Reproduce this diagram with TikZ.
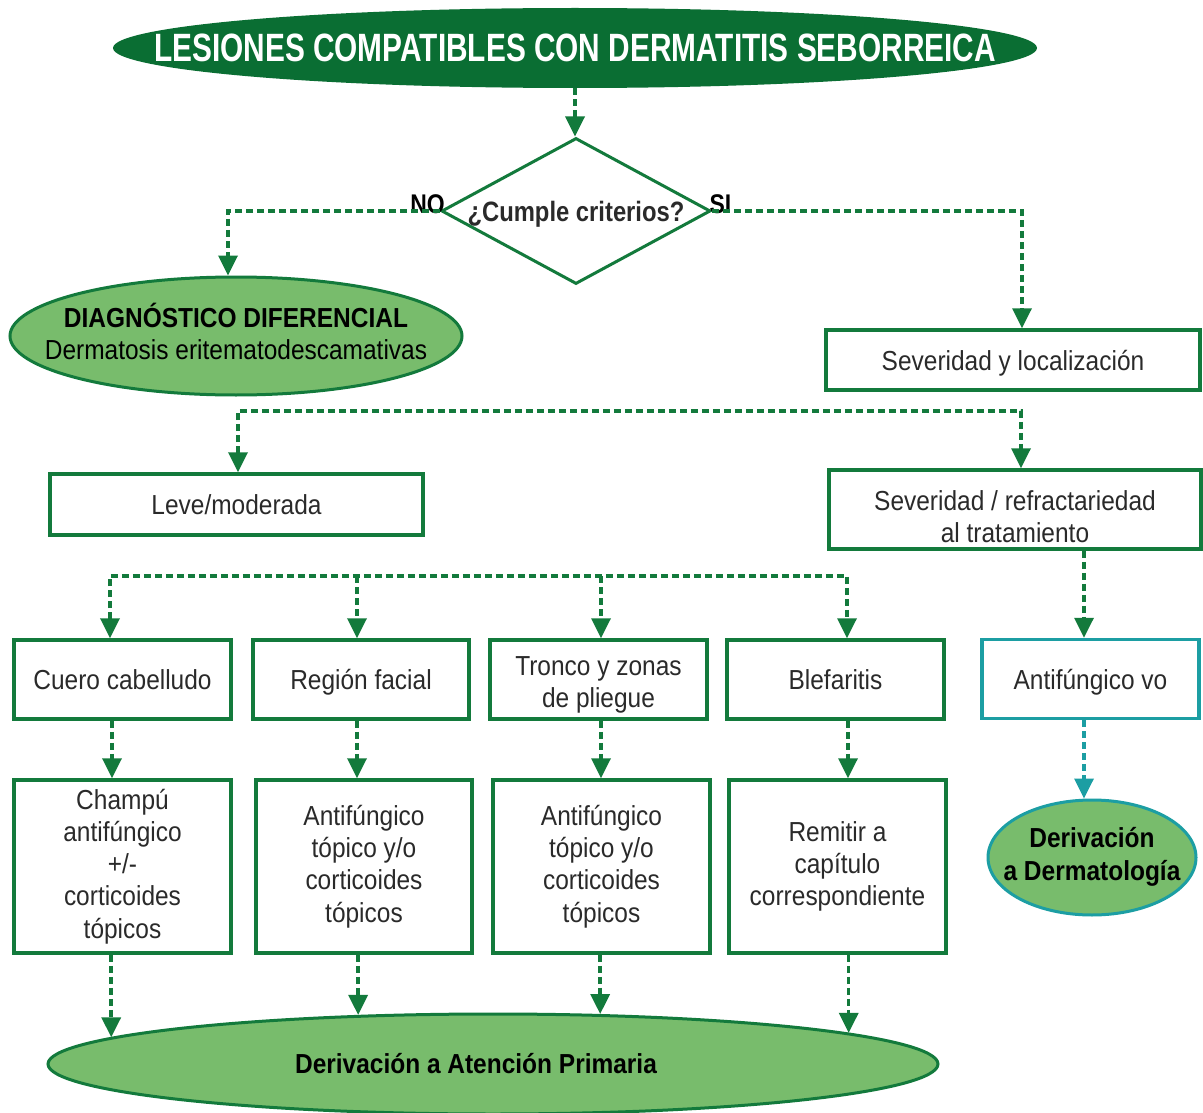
\documentclass[tikz,border=0pt]{standalone}
\usepackage{fontspec}
\setmainfont[FakeStretch=0.89]{Liberation Sans}
\newfontfamily\titlefam[FakeStretch=0.755]{Liberation Sans}
\newfontfamily\condfam[FakeStretch=0.85]{Liberation Sans}
\usetikzlibrary{shapes.geometric,arrows.meta,calc}

\definecolor{dkgreen}{HTML}{0A6E33}
\definecolor{lngreen}{HTML}{137A3C}
\definecolor{ltgreen}{HTML}{78BC6C}
\definecolor{tealc}{HTML}{1C9EA3}
\definecolor{ink}{HTML}{2A2A2A}

\newcommand\bodysize{\fontsize{27.5}{32.2}\selectfont}
% text of zero width, so an ellipse keeps the size given by its minimum width/height
\newcommand\ztext[1]{\makebox[0pt]{\begin{tabular}{@{}c@{}}#1\end{tabular}}}

\tikzset{
  box/.style={draw=lngreen, line width=3.5pt, fill=white, text=ink, align=center,
    inner sep=0pt, font=\bodysize},
  oneline/.style={text depth=0pt},
  tealbox/.style={box, draw=tealc},
  boxtext/.style={text=ink, align=center, inner sep=0pt, font=\bodysize},
  greenell/.style={ellipse, draw=lngreen, line width=3pt, fill=ltgreen, text=black,
    inner sep=0pt, font=\bodysize},
  titleell/.style={ellipse, fill=dkgreen, text=white, inner sep=0pt,
    font=\titlefam\bfseries\fontsize{39.5}{39.5}\selectfont},
  question/.style={diamond, aspect=1.84, draw=lngreen, line width=3pt, inner sep=0pt,
    minimum width=269pt, minimum height=146pt, text=ink, text depth=0pt,
    font=\condfam\bfseries\fontsize{28}{28}\selectfont},
  answer/.style={text=black, inner sep=0pt, font=\condfam\bfseries\fontsize{27}{27}\selectfont},
  flow/.style={draw=lngreen, line width=3.5pt, dash pattern=on 7pt off 4pt,
    -{Triangle[width=19pt,length=20pt]}},
  twoway/.style={flow, {Triangle[width=19pt,length=20pt]}-{Triangle[width=19pt,length=20pt]}},
  tealflow/.style={flow, draw=tealc},
}

\begin{document}
\begin{tikzpicture}[x=1pt,y=-1pt]
\useasboundingbox[fill=white] (0,0) rectangle (1203,1113);

% --- top of the chart
\node[titleell, minimum width=924pt, minimum height=80pt] (top) at (575,48)
  {\makebox[0pt]{LESIONES COMPATIBLES CON DERMATITIS SEBORREICA}};
\node[question] (crit) at (576,211) {\makebox[0pt]{¿Cumple criterios?}};
\node[answer] (no) at (427.5,204) {NO};
\node[answer] (si) at (720.5,204) {SI};

\node[greenell, minimum width=452pt, minimum height=118pt] (diag) at (236,336)
  {\ztext{{\bfseries DIAGNÓSTICO DIFERENCIAL}\\Dermatosis eritematodescamativas}};
\node[box, oneline, minimum width=374pt, minimum height=60pt] (sevloc) at (1013,360)
  {Severidad y localización};

% --- second level
\node[box, oneline, minimum width=373pt, minimum height=61pt] (leve) at (236.5,504.5)
  {Leve/moderada};
\node[box, minimum width=372pt, minimum height=79pt,
  label={[boxtext, yshift=-7.5pt]center:{Severidad / refractariedad\\al tratamiento}}]
  (sevref) at (1015,509.5) {};

% --- locations
\node[box, oneline, minimum width=217pt, minimum height=79pt] (cuero) at (122.5,679.5) {Cuero cabelludo};
\node[box, oneline, minimum width=216pt, minimum height=79pt] (facial) at (361,679.5) {Región facial};
\node[box, minimum width=217pt, minimum height=79pt,
  label={[boxtext, yshift=-5pt]center:{Tronco y zonas\\de pliegue}}]
  (tronco) at (598.5,679.5) {};
\node[box, oneline, minimum width=217pt, minimum height=79pt] (blef) at (835.5,679.5) {Blefaritis};
\node[tealbox, oneline, minimum width=217pt, minimum height=79pt] (antivo) at (1090.5,679) {Antifúngico vo};

% --- treatments
\node[box, minimum width=217pt, minimum height=173pt] (champu) at (122.5,866.5)
  {Champú\\antifúngico\\+/-\\corticoides\\tópicos};
\node[box, minimum width=216pt, minimum height=173pt] (topa) at (364,866.5)
  {Antifúngico\\tópico y/o\\corticoides\\tópicos};
\node[box, minimum width=217pt, minimum height=173pt] (topb) at (601.5,866.5)
  {Antifúngico\\tópico y/o\\corticoides\\tópicos};
\node[box, minimum width=217pt, minimum height=173pt] (remit) at (837.5,866.5)
  {Remitir a\\capítulo\\correspondiente};
\node[greenell, draw=tealc, minimum width=208pt, minimum height=115pt,
  font=\bfseries\fontsize{27.5}{33}\selectfont] (derm) at (1092,857.5)
  {\ztext{Derivación\\a Dermatología}};

% --- referral to primary care
\node[greenell, minimum width=890pt, minimum height=100pt,
  font=\bfseries\fontsize{27.5}{32}\selectfont] (prim) at (493,1064)
  {\makebox[0pt]{Derivación a Atención Primaria\kern34pt}};

% --- free corners of the branching lines
\coordinate (brL) at (238,411);
\coordinate (brR) at (1021,411);
\coordinate (loc1) at (110,576);
\coordinate (loc2) at (357,576);
\coordinate (loc3) at (601,576);
\coordinate (loc4) at (847,576);
\coordinate (colA) at (112,0);
\coordinate (colD) at (848,0);
\coordinate (colR) at (1084,0);

% --- connectors
\draw[flow] (top.south) -- (top.south |- crit.north);
\draw[flow] (crit.west) -| ([xshift=-8pt]diag.north);
\draw[flow] (crit.east) -| ([xshift=9pt]sevloc.north);

\draw[twoway] (brL |- leve.north) -- (brL) -- (brR) -- (brR |- sevref.north);

\draw[twoway] (loc1 |- cuero.north) -- (loc1) -- (loc4) -- (loc4 |- blef.north);
\draw[flow] (loc2) -- (loc2 |- facial.north);
\draw[flow] (loc3) -- (loc3 |- tronco.north);

\draw[flow] (cuero.south -| colA) -- (champu.north -| colA);
\draw[flow] (facial.south -| loc2) -- (topa.north -| loc2);
\draw[flow] (tronco.south -| loc3) -- (topb.north -| loc3);
\draw[flow] (blef.south -| colD) -- (remit.north -| colD);

\draw[flow] (sevref.south -| colR) -- (antivo.north -| colR);
\draw[tealflow] (antivo.south -| colR) -- (derm.north -| colR);

\draw[flow] (champu.south -| prim.176) -- (prim.176);
\draw[flow] (topa.south -| prim.160) -- (prim.160);
\draw[flow] (topb.south -| prim.25) -- (prim.25);
\draw[flow] (remit.south -| prim.5) -- (prim.5);
\end{tikzpicture}
\end{document}
